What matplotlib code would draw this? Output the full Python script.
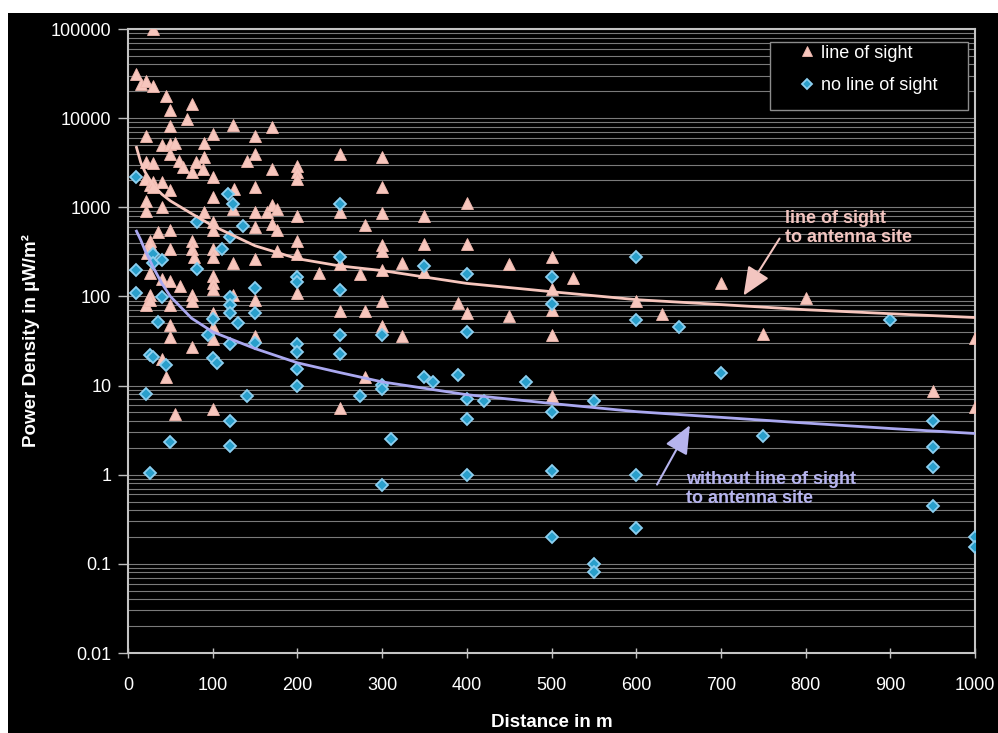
import matplotlib
matplotlib.use("Agg")
import matplotlib.pyplot as plt
from matplotlib.patches import Rectangle

# measured points: line of sight (triangles)
los_x = [10, 15, 21, 30, 30, 45, 50, 75, 70, 50, 124, 170, 21, 100, 150, 40, 50, 55, 90, 150,
         50, 90, 140, 250, 300, 170, 200, 200, 200, 21, 30, 60, 65, 75, 80, 88, 100, 20, 26, 30,
         40, 30, 50, 125, 150, 100, 300, 21, 21, 40, 124, 90, 150, 164, 170, 176, 200, 250, 300, 350,
         400, 280, 100, 100, 35, 50, 150, 170, 176, 75, 75, 26, 26, 22, 50, 100, 100, 78, 124, 150,
         176, 200, 200, 250, 300, 300, 350, 400, 225, 274, 300, 323, 350, 450, 500, 525, 500, 26, 40, 50,
         61, 26, 21, 26, 75, 75, 100, 100, 100, 124, 150, 200, 250, 100, 50, 50, 100, 100, 50, 75,
         150, 300, 280, 390, 400, 450, 500, 300, 323, 500, 600, 630, 700, 750, 800, 1000, 40, 45, 55, 100,
         250, 280, 500, 950, 1000]
los_y = [31000, 24000, 26000, 100000, 23000, 17600, 12300, 14500, 9700, 8200, 8300, 8000, 6300, 6600, 6300, 5000, 5100, 5300, 5300, 4000,
         4000, 3700, 3300, 4000, 3700, 2700, 2900, 2500, 2100, 3200, 3100, 3300, 2800, 2500, 3200, 2700, 2200, 2050, 1800, 1900,
         1900, 1700, 1550, 1600, 1700, 1300, 1700, 1170, 900, 1000, 950, 880, 880, 880, 1070, 950, 790, 880, 860, 790,
         1130, 640, 680, 560, 530, 560, 600, 650, 560, 415, 340, 420, 390, 310, 340, 340, 275, 275, 240, 260,
         320, 415, 300, 230, 380, 320, 390, 390, 185, 177, 200, 240, 190, 230, 280, 160, 120, 185, 155, 150,
         130, 105, 81, 92, 105, 88, 168, 143, 120, 105, 92, 110, 68, 66, 81, 48, 45, 33, 35, 27,
         36, 88, 68, 85, 66, 60, 71, 46, 36, 37, 88, 63, 140, 38, 95, 34, 20, 12.6, 4.8, 5.4,
         5.6, 12.6, 7.7, 8.8, 5.8]

# measured points: no line of sight (diamonds)
nlos_x = [10, 118, 124, 250, 81, 136, 120, 111, 30, 30, 40, 10, 81, 200, 200, 250, 250, 10, 40, 150,
          120, 120, 120, 150, 35, 100, 130, 250, 250, 26, 30, 45, 100, 105, 94, 120, 150, 200, 200, 200,
          200, 21, 140, 120, 50, 120, 26, 350, 400, 500, 600, 500, 600, 300, 400, 350, 360, 390, 470, 300,
          300, 274, 400, 420, 550, 500, 400, 310, 400, 500, 600, 300, 500, 600, 550, 550, 650, 900, 700, 950,
          750, 950, 950, 950, 1000, 1000]
nlos_y = [2200, 1400, 1100, 1100, 680, 610, 460, 340, 300, 240, 255, 200, 205, 165, 145, 280, 117, 110, 98, 125,
          98, 81, 66, 66, 51, 56, 50, 37, 22.5, 22, 21, 17, 20.5, 18, 37, 29, 30, 29, 23.5, 15.5,
          10, 8.1, 7.7, 4.0, 2.3, 2.1, 1.05, 220, 180, 165, 280, 83, 54, 37, 40, 12.6, 11, 13.3, 11, 10.2,
          9.2, 7.7, 7.0, 6.8, 6.8, 5.1, 4.2, 2.5, 1.0, 1.1, 1.0, 0.77, 0.2, 0.25, 0.1, 0.08, 45, 54, 14, 4.0,
          2.7, 2.06, 1.23, 0.44, 0.2, 0.155]

# trend curves
trend_x = [10, 15, 20, 30, 40, 50, 75, 100, 150, 200, 250, 300, 400, 500, 600, 700, 800, 900, 1000]
los_trend = [4700, 3200, 2500, 1750, 1400, 1180, 850, 620, 370, 265, 220, 195, 140, 113, 92, 81, 71, 64, 58]
nlos_trend = [540, 430, 330, 210, 140, 100, 57, 40, 26, 18, 14, 11, 7.9, 6.3, 5.1, 4.4, 3.8, 3.3, 2.9]

x_ticks = [0, 100, 200, 300, 400, 500, 600, 700, 800, 900, 1000]
y_ticks = [0.01, 0.1, 1, 10, 100, 1000, 10000, 100000]
y_labels = ['0.01', '0.1', '1', '10', '100', '1000', '10000', '100000']

pink = '#f7c6bd'
blue_line = '#aaa8f0'
diamond_fill = '#2a9fcb'
diamond_edge = '#8ccff0'

plt.rcParams['font.family'] = ['Liberation Sans', 'DejaVu Sans']

fig = plt.figure(figsize=(9.98, 7.33), dpi=100, facecolor='white')
fig.patches.append(Rectangle((8 / 998, 0), 1, (733 - 13) / 733, transform=fig.transFigure,
                             facecolor='black', edgecolor='none', zorder=-10))
ax = fig.add_axes([128 / 998, 80 / 733, 847 / 998, 624 / 733])
ax.set_zorder(1)
ax.set_facecolor('black')

ax.set_yscale('log')
ax.set_xlim(0, 1000)
ax.set_ylim(0.01, 100000)

# grid lines at every decade step
ax.yaxis.grid(True, which='both', color='#7a7a7a', linewidth=0.8)
ax.xaxis.grid(False)
ax.set_axisbelow(True)

ax.plot(los_x, los_y, linestyle='none', marker='^', markersize=8.5, color=pink,
        markeredgecolor='#f0b8ae', markeredgewidth=0.6, label='line of sight', zorder=3)
ax.plot(nlos_x, nlos_y, linestyle='none', marker='D', markersize=6.5, color=diamond_fill,
        markeredgecolor=diamond_edge, markeredgewidth=1.3, label='no line of sight', zorder=4)

ax.plot(trend_x, los_trend, color=pink, linewidth=2, zorder=5)
ax.plot(trend_x, nlos_trend, color=blue_line, linewidth=2, zorder=5)

ax.set_xticks(x_ticks)
ax.set_xticklabels([str(v) for v in x_ticks])
ax.set_yticks(y_ticks)
ax.set_yticklabels(y_labels)
ax.yaxis.set_minor_formatter(plt.NullFormatter())
ax.tick_params(axis='y', which='minor', length=0)
ax.tick_params(axis='y', which='major', colors='white', labelsize=13, length=7, width=1,
               color='#bfbfbf', pad=5)
ax.tick_params(axis='x', colors='white', labelsize=13, direction='inout', length=7, width=1,
               color='#bfbfbf', pad=14)

for side in ['left', 'right', 'top', 'bottom']:
    ax.spines[side].set_color('#c4c4c4')
    ax.spines[side].set_linewidth(1.5)

ax.set_xlabel('Distance in m', color='white', fontsize=13.5, fontweight='bold')
ax.xaxis.set_label_coords(0.5, -0.098)
ax.set_ylabel('Power Density in µW/m²', color='white', fontsize=13.5, fontweight='bold')
ax.yaxis.set_label_coords(-0.104, 0.5)

# legend with its own frame
ax.add_patch(Rectangle((0.758, 0.870), 0.234, 0.109, transform=ax.transAxes,
                       facecolor='black', edgecolor='#8c8c8c', linewidth=1, zorder=6))
leg = ax.legend(loc='upper left', bbox_to_anchor=(0.791, 0.975), frameon=False, fontsize=13,
                handlelength=1.0, handletextpad=0.25, labelspacing=0.85, borderpad=0,
                borderaxespad=0, numpoints=1, markerscale=0.85)
leg.set_zorder(7)
for t in leg.get_texts():
    t.set_color('white')

# annotations
ax.text(0.776, 0.681, 'line of sight\nto antenna site', transform=ax.transAxes, color='#f3c5c0',
        fontsize=13, fontweight='bold', va='center', ha='left', zorder=8)
ax.annotate('', xy=(0.725, 0.569), xytext=(0.771, 0.668), xycoords='axes fraction',
            textcoords='axes fraction',
            arrowprops=dict(arrowstyle='-|>,head_length=0.7,head_width=0.3', color='#f3c5c0',
                            lw=1.5, mutation_scale=25), zorder=8)
ax.text(0.659, 0.263, 'without line of sight\nto antenna site', transform=ax.transAxes,
        color='#b6b4ee', fontsize=13, fontweight='bold', va='center', ha='left', zorder=8)
ax.annotate('', xy=(0.665, 0.369), xytext=(0.623, 0.266), xycoords='axes fraction',
            textcoords='axes fraction',
            arrowprops=dict(arrowstyle='-|>,head_length=0.7,head_width=0.3', color='#b6b4ee',
                            lw=1.5, mutation_scale=25), zorder=8)

fig.savefig('out.png', dpi=100, facecolor=fig.get_facecolor())
